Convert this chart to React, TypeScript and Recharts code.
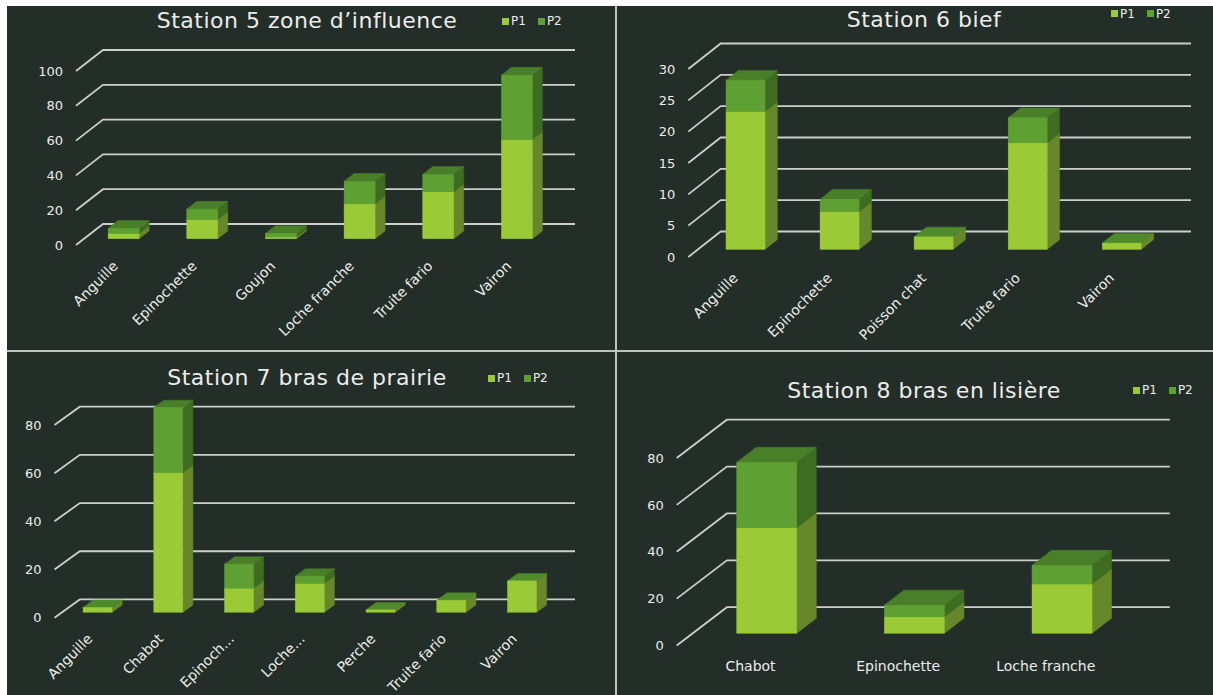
import React from "react";
import { BarChart, Bar, XAxis, YAxis, CartesianGrid } from "recharts";

// station 5
const st5Species = ["Anguille", "Epinochette", "Goujon", "Loche franche", "Truite fario", "Vairon"];
const st5P1 = [3, 11, 1, 20, 27, 57];
const st5P2 = [3, 6, 2, 13, 10, 37];
const st5Ticks = [0, 20, 40, 60, 80, 100];

// station 6
const st6Species = ["Anguille", "Epinochette", "Poisson chat", "Truite fario", "Vairon"];
const st6P1 = [22, 6, 2, 17, 1];
const st6P2 = [5, 2, 0, 4, 0];
const st6Ticks = [0, 5, 10, 15, 20, 25, 30];

// station 7
const st7Species = ["Anguille", "Chabot", "Epinoch...", "Loche...", "Perche", "Truite fario", "Vairon"];
const st7P1 = [2, 58, 10, 12, 1, 5, 13];
const st7P2 = [0, 27, 10, 3, 0, 0, 0];
const st7Ticks = [0, 20, 40, 60, 80];

// station 8
const st8Species = ["Chabot", "Epinochette", "Loche franche"];
const st8P1 = [45, 7, 21];
const st8P2 = [28, 5, 8];
const st8Ticks = [0, 20, 40, 60, 80];

const seriesNames = ["P1", "P2"];

const BG = "#232e28";
const TEXT = "#ececec";
const GRID = "#cbcfcc";
const FONT = "'DejaVu Sans', sans-serif";

const FACES = [
  { front: "#9acb36", side: "#66872a", top: "#4f8a2c" },
  { front: "#5fa033", side: "#3e6d22", top: "#4a7f2a" },
];

// pt/ph = position of the front wall from 0 up to the last tick
const panels = [
  {
    title: "Station 5 zone d\u2019influence", species: st5Species, p1: st5P1, p2: st5P2, ticks: st5Ticks, domMax: 100,
    left: 7, top: 6, w: 608, h: 344, pl: 69, pt: 65, pw: 472, ph: 174,
    depth: [27, 21], place: 0.3, thick: 0.37, barSize: 31, rotate: true,
    titleX: 300, titleY: 15, legendX: 495, legendY: 15,
  },
  {
    title: "Station 6 bief", species: st6Species, p1: st6P1, p2: st6P2, ticks: st6Ticks, domMax: 30,
    left: 617, top: 6, w: 596, h: 344, pl: 71.3, pt: 63, pw: 470.3, ph: 188,
    depth: [32.4, 25.5], place: 0.3, thick: 0.38, barSize: 39, rotate: true,
    titleX: 307, titleY: 14, legendX: 494, legendY: 7.5,
  },
  {
    title: "Station 7 bras de prairie", species: st7Species, p1: st7P1, p2: st7P2, ticks: st7Ticks, domMax: 90,
    left: 7, top: 352, w: 608, h: 343, pl: 47.5, pt: 73, pw: 495.2, ph: 192.7,
    depth: [25.3, 18.3], place: 0.3, thick: 0.4, barSize: 29, rotate: true,
    titleX: 300, titleY: 26, legendX: 481, legendY: 26,
  },
  {
    title: "Station 8 bras en lisi\u00e8re", species: st8Species, p1: st8P1, p2: st8P2, ticks: st8Ticks, domMax: 80,
    left: 617, top: 352, w: 596, h: 343, pl: 59.7, pt: 106, pw: 442.9, ph: 187.5,
    depth: [50.2, 38.3], place: 0.32, thick: 0.39, barSize: 60, rotate: false,
    titleX: 307, titleY: 39, legendX: 516, legendY: 38,
  },
];

function makePrism(cfg: any, faces: any) {
  return (props: any) => {
    const { x, y, width, height } = props;
    if (!height || height <= 0.2) return <g />;
    const X = x + cfg.depth[0] * cfg.place;
    const Y = y - cfg.depth[1] * cfg.place;
    const bx = cfg.depth[0] * cfg.thick;
    const by = cfg.depth[1] * cfg.thick;
    const w = width;
    const h = height;
    return (
      <g>
        <polygon
          points={`${X + w},${Y} ${X + w + bx},${Y - by} ${X + w + bx},${Y + h - by} ${X + w},${Y + h}`}
          fill={faces.side} stroke={faces.side} strokeWidth={0.5}
        />
        <polygon
          points={`${X},${Y} ${X + bx},${Y - by} ${X + w + bx},${Y - by} ${X + w},${Y}`}
          fill={faces.top} stroke={faces.top} strokeWidth={0.5}
        />
        <rect x={X} y={Y} width={w} height={h} fill={faces.front} stroke={faces.front} strokeWidth={0.5} />
      </g>
    );
  };
}

function Panel({ cfg }: any) {
  const data = cfg.species.map((name: string, i: number) => ({
    name,
    P1: cfg.p1[i],
    P2: cfg.p2[i],
  }));
  const [dx, dy] = cfg.depth;
  const lastTick = cfg.ticks[cfg.ticks.length - 1];
  const plotH = (cfg.ph * cfg.domMax) / lastTick;
  const plotTop = cfg.pt + cfg.ph - plotH;
  const yW = 40;
  const xH = 30;
  const margin = {
    top: plotTop,
    left: cfg.pl - yW,
    right: cfg.w - cfg.pl - cfg.pw,
    bottom: cfg.h - plotTop - plotH - xH,
  };

  const gridLine = (p: any) => {
    // no wall line at the top of an extended domain
    if (cfg.domMax > lastTick && Math.abs(p.y1 - plotTop) < 1) return <g key={p.key} />;
    return (
      <path
        key={p.key}
        d={`M${p.x1},${p.y1} L${p.x1 + dx},${p.y1 - dy} L${p.x2 + dx},${p.y1 - dy}`}
        stroke={GRID}
        strokeWidth={1.8}
        fill="none"
      />
    );
  };

  const yTick = (p: any) => (
    <text x={p.x - 13} y={p.y} dy="0.36em" textAnchor="end" fill={TEXT} fontSize={13} fontFamily={FONT}>
      {p.payload.value}
    </text>
  );

  const xTick = (p: any) => {
    if (!cfg.rotate) {
      return (
        <text x={p.x} y={p.y + 20} dy="0.36em" textAnchor="middle" fill={TEXT} fontSize={14} fontFamily={FONT}>
          {p.payload.value}
        </text>
      );
    }
    const ax = p.x + 3.5;
    const ay = p.y + 22;
    return (
      <text
        x={ax} y={ay} textAnchor="end" fill={TEXT} fontSize={14} fontFamily={FONT}
        transform={`rotate(-45 ${ax} ${ay})`}
      >
        {p.payload.value}
      </text>
    );
  };

  return (
    <div style={{ position: "absolute", left: cfg.left, top: cfg.top, width: cfg.w, height: cfg.h, background: BG, overflow: "hidden" }}>
      <BarChart width={cfg.w} height={cfg.h} data={data} margin={margin}>
        <CartesianGrid horizontal={gridLine} vertical={false} />
        <XAxis
          dataKey="name" interval={0} axisLine={false} tickLine={false}
          tickSize={0} tickMargin={0} height={xH} tick={xTick}
        />
        <YAxis
          domain={[0, cfg.domMax]} ticks={cfg.ticks} width={yW}
          axisLine={false} tickLine={false} tickSize={0} tickMargin={0} tick={yTick}
        />
        {seriesNames.map((s, i) => (
          <Bar
            key={s} dataKey={s} stackId="a" barSize={cfg.barSize}
            isAnimationActive={false} fill={FACES[i].front}
            shape={makePrism(cfg, FACES[i])}
          />
        ))}
      </BarChart>
      <div
        style={{
          position: "absolute", left: cfg.titleX, top: cfg.titleY - 12.6, transform: "translateX(-50%)",
          whiteSpace: "nowrap", fontFamily: FONT, fontSize: 22, lineHeight: "26px", color: TEXT, letterSpacing: 0.5,
        }}
      >
        {cfg.title}
      </div>
      <div
        style={{
          position: "absolute", left: cfg.legendX, top: cfg.legendY - 8, height: 16, display: "flex",
          alignItems: "center", fontFamily: FONT, fontSize: 12, color: TEXT, whiteSpace: "nowrap",
        }}
      >
        {seriesNames.map((s, i) => (
          <span key={s} style={{ display: "flex", alignItems: "center", marginRight: i === 0 ? 12 : 0 }}>
            <span style={{ display: "inline-block", width: 7, height: 7, background: FACES[i].front, marginRight: 2 }} />
            {s}
          </span>
        ))}
      </div>
    </div>
  );
}

export default function App() {
  return (
    <div style={{ position: "absolute", left: 0, top: 0, width: 1213, height: 695, background: "#ffffff", overflow: "hidden" }}>
      <div style={{ position: "absolute", left: 7, top: 6, width: 1206, height: 689, background: "#bfc3c0" }} />
      {panels.map((p, i) => (
        <Panel key={i} cfg={p} />
      ))}
    </div>
  );
}
